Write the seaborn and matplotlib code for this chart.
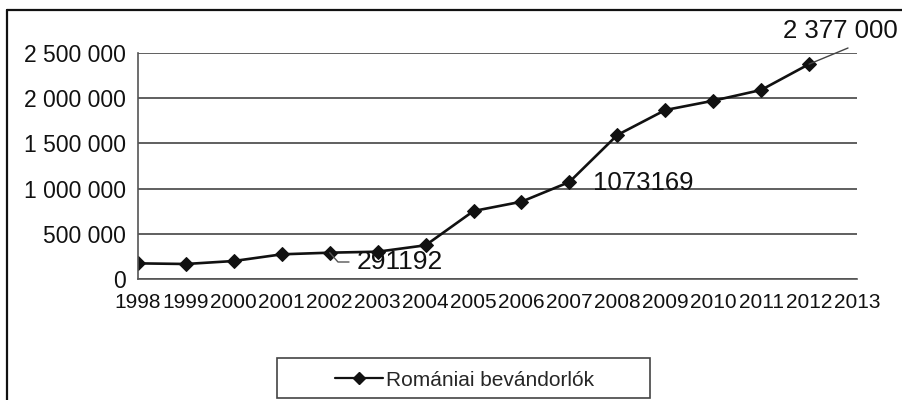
import matplotlib
matplotlib.use("Agg")
import matplotlib.pyplot as plt
import matplotlib.lines as mlines
import matplotlib.patches as mpatches
import seaborn as sns
import pandas as pd
from matplotlib.ticker import FuncFormatter

years = [1998, 1999, 2000, 2001, 2002, 2003, 2004, 2005, 2006, 2007, 2008, 2009, 2010, 2011, 2012]
values = [173000, 166000, 199000, 273000, 291192, 302000, 373000, 752000, 855000, 1073169,
          1593000, 1869000, 1972000, 2091000, 2377000]
series_name = "Romániai bevándorlók"
y_ticks = [0, 500000, 1000000, 1500000, 2000000, 2500000]
x_ticks = list(range(1998, 2014))

df = pd.DataFrame({"year": years, "value": values, "series": series_name})

sns.set_theme(style="white")
plt.rcParams["font.family"] = ["Liberation Sans", "DejaVu Sans"]

W, H = 902, 400
fig = plt.figure(figsize=(W/100, H/100), dpi=100)
ax = fig.add_axes([138/W, 1-279/H, (857-138)/W, (279-53)/H])

sns.lineplot(data=df, x="year", y="value", marker="D", color="#111111",
             markersize=7.5, markeredgecolor="#111111", linewidth=1.9, ax=ax, legend=False)

ax.set_xlim(1998, 2013)
ax.set_ylim(0, 2500000)
ax.set_xticks(x_ticks)
ax.set_yticks(y_ticks)
ax.yaxis.set_major_formatter(FuncFormatter(lambda v, p: f"{int(v):,}".replace(",", " ")))
ax.set_xlabel("")
ax.set_ylabel("")
ax.grid(axis="y", color="#444444", linewidth=1.2)
ax.set_axisbelow(True)
for s in ["top", "right"]:
    ax.spines[s].set_visible(False)
for s in ["left", "bottom"]:
    ax.spines[s].set_color("#555555")
    ax.spines[s].set_linewidth(1.2)
ax.tick_params(axis="both", which="major", direction="out", length=7, width=1.0,
               color="#555555", labelsize=16.5, labelcolor="#111111", pad=2)
ax.tick_params(axis="x", labelsize=15, pad=3)

# data labels
i02 = years.index(2002)
fig.text(357/W, 1-262/H, "291192", fontsize=19, va="center", ha="left", color="#111111")
x2002 = ax.transData.transform((2002, values[i02]))
fig.add_artist(mlines.Line2D([x2002[0]/W, 338/W, 349/W],
                             [x2002[1]/H, 1-262/H, 1-262/H],
                             color="#555555", linewidth=1.0))

fig.text(593/W, 1-183/H, "1073169", fontsize=18.5, va="center", ha="left", color="#111111")

i12 = years.index(2012)
x2012 = ax.transData.transform((2012, values[i12]))
fig.add_artist(mlines.Line2D([x2012[0]/W, 848/W], [x2012[1]/H, 1-48/H],
                             color="#444444", linewidth=1.0))
fig.text(783/W, 1-31/H, "2 377 000", fontsize=18.5, va="center", ha="left", color="#111111")

# outer border
fig.add_artist(mlines.Line2D([7/W, 1.0], [1-10/H, 1-10/H], color="#111111", linewidth=1.6))
fig.add_artist(mlines.Line2D([7/W, 7/W], [0, 1-10/H], color="#111111", linewidth=1.6))

# legend box + legend
fig.add_artist(mpatches.Rectangle((277/W, 1-398/H), (650-277)/W, (398-358)/H,
                                  transform=fig.transFigure, fill=False,
                                  edgecolor="#444444", linewidth=1.2))
handle = mlines.Line2D([], [], color="#111111", marker="D", markersize=6, linewidth=1.6)
fig.legend([handle], [series_name], loc="center left", bbox_to_anchor=(335/W, 1-380/H),
           frameon=False, fontsize=15,
           handlelength=2.3, handletextpad=0.15, borderpad=0, borderaxespad=0)

fig.savefig("out.png", dpi=100)
